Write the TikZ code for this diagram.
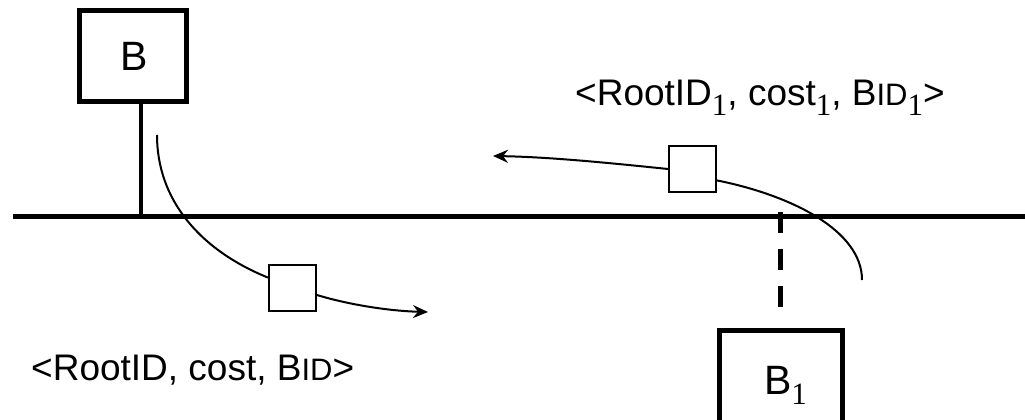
\documentclass[tikz,border=0pt]{standalone}
\usepackage{fontspec}
\setmainfont{Liberation Sans}
\newfontfamily\digitfont{Liberation Serif}
\usetikzlibrary{arrows.meta,calc}
% serif subscript one and small-caps "ID"
\newcommand\subone{\raisebox{-10pt}{\fontsize{31}{31}\selectfont\digitfont 1}}
\newcommand\smallid{{\fontsize{31}{31}\selectfont ID}}

\begin{document}
\begin{tikzpicture}[x=1pt,y=-1pt,
  bridge/.style={draw,line width=5pt,minimum width=107pt,minimum height=90pt,
    inner sep=0pt,text height=29.4pt,text depth=0pt,font=\fontsize{41}{48}\selectfont},
  frame/.style={draw,line width=2pt,minimum width=47pt,minimum height=46pt,
    inner sep=0pt,fill=white},
  flow/.style={line width=2pt},
  tip/.style={-{Stealth[length=15pt,width=13pt,inset=5pt]}},
  lbl/.style={inner sep=0pt,anchor=base west,font=\fontsize{37}{44}\selectfont}]
\useasboundingbox (0,0) rectangle (1025,420);

% LAN segment
\coordinate (busL) at (13,216);
\coordinate (busR) at (1030,216);
\draw[line width=5pt] (busL) -- (busR);

% bridges
\node[bridge] (B) at (132.5,56) {\hspace{4pt}B};
\node[bridge,minimum width=123pt,minimum height=100pt] (B1) at (780.5,380) {\hspace{10pt}B\subone};

% attachment of B
\coordinate (tapB) at (141,216);
\draw[line width=4.5pt] (tapB |- B.south) -- (tapB);

% attachment of B1 (dashed)
\coordinate (tap1) at (780.5,212);
\draw[line width=5pt,dash pattern=on 21pt off 16pt,shorten >=20pt] (tap1) -- (tap1 |- B1.north);

% configuration messages
\node[frame] (pA) at (292.5,288) {};
\node[frame] (pB) at (692.5,169) {};

\coordinate (sA) at (157,135);
\coordinate (eA) at (428,312);
\draw[flow] (sA) .. controls (157,200) and (200,250) .. (pA.157);
\draw[flow,tip] (pA.-16) .. controls (350,305) and (390,311) .. (eA);

\coordinate (sB) at (862,280);
\coordinate (eB) at (493,156);
\draw[flow] (sB) .. controls (862,230) and (790,195) .. (pB.-25);
\draw[flow,tip] (pB.west) .. controls (610,163) and (550,157) .. (eB);

% message contents
\node[lbl] (m1) at (575,105) {<RootID\subone, cost\subone, B\smallid\subone>};
\node[lbl] (m0) at (31,380) {<RootID, cost, B\smallid>};
\end{tikzpicture}
\end{document}
